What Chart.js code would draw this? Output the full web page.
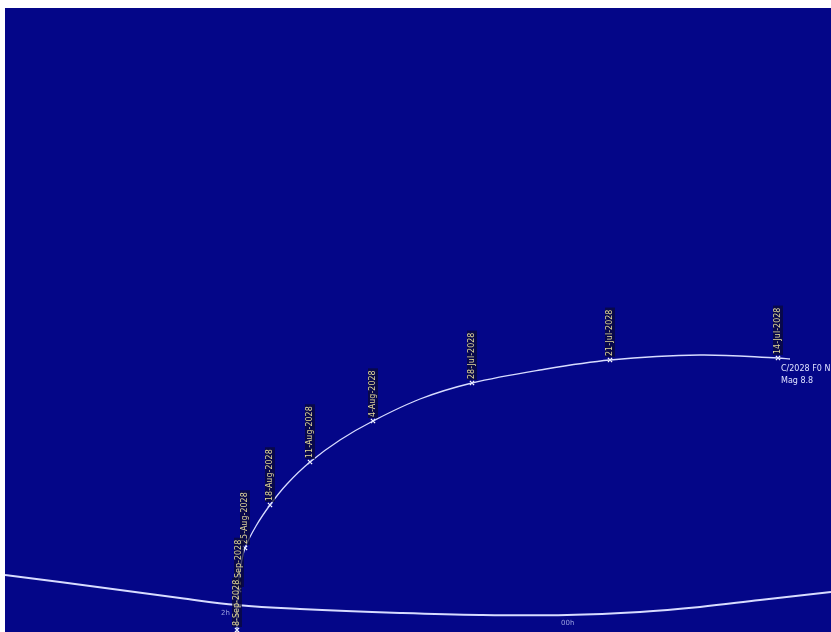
<!DOCTYPE html>
<html>
<head>
<meta charset="utf-8">
<script src="https://cdn.jsdelivr.net/npm/chart.js@4.4.1/dist/chart.umd.min.js"></script>
<style>
  html, body { margin: 0; padding: 0; background: #fff; }
  #wrap { position: absolute; left: 5px; top: 8px; width: 826px; height: 624px; }
</style>
</head>
<body>
<div id="wrap"><canvas id="myChart" width="826" height="624"></canvas></div>
<script>
// sky position of the horizon / ecliptic line (screen units)
const horizonX = [5, 60, 120, 180, 237, 300, 400, 480, 567, 640, 700, 760, 831];
const horizonY = [575, 582, 590, 598, 605, 609, 613, 615, 615, 612, 607, 600, 592];

// comet path
const pathX = [790, 778, 700, 610, 540, 472, 420, 373, 340, 310, 287, 270, 256, 245, 240, 238, 237, 237];
const pathY = [359, 358, 355, 360, 370, 383, 399, 421, 440, 462, 484, 505, 526, 548, 570, 592, 612, 632];

// dated positions
const dateLabels = ['14-Jul-2028', '21-Jul-2028', '28-Jul-2028', '4-Aug-2028', '11-Aug-2028', '18-Aug-2028', '25-Aug-2028', '1-Sep-2028', '8-Sep-2028'];
const dateX = [778, 610, 472, 373, 310, 270, 245, 239, 237];
const dateY = [358, 360, 383, 421, 462, 505, 548, 590, 630];

// hour marks on the horizon line
const hourLabels = ['2h', '00h'];
const hourX = [227, 567];
const hourY = [605, 615];

const objectName = 'C/2028 F0 NN';
const objectMag = 'Mag 8.8';

const toPts = (xs, ys) => xs.map((x, i) => ({x: x, y: ys[i]}));

const skyPlugin = {
    id: 'sky',
    beforeDraw(chart) {
        const ctx = chart.ctx;
        ctx.save();
        ctx.fillStyle = 'rgb(4,6,136)';
        ctx.fillRect(0, 0, chart.width, chart.height);
        ctx.restore();
    },
    afterDatasetsDraw(chart) {
        const ctx = chart.ctx;
        const xs = chart.scales.x, ys = chart.scales.y;
        ctx.save();
        ctx.font = '8px "DejaVu Sans"';
        ctx.textBaseline = 'middle';
        dateLabels.forEach((lab, i) => {
            const px = xs.getPixelForValue(dateX[i]);
            const py = ys.getPixelForValue(dateY[i]);
            ctx.save();
            ctx.translate(px, py - 4);
            ctx.rotate(-Math.PI / 2);
            const w = ctx.measureText(lab).width;
            ctx.fillStyle = 'rgba(10,10,50,0.7)';
            ctx.fillRect(-1, -5, w + 3, 10);
            ctx.fillStyle = '#e2d89a';
            ctx.textAlign = 'left';
            ctx.fillText(lab, 0, 0);
            ctx.restore();
        });
        ctx.fillStyle = '#9aa0e0';
        ctx.font = '7px "DejaVu Sans"';
        ctx.textAlign = 'left';
        hourLabels.forEach((lab, i) => {
            ctx.fillText(lab, xs.getPixelForValue(hourX[i]) - 6, ys.getPixelForValue(hourY[i]) + 8);
        });
        const ox = xs.getPixelForValue(dateX[0]) + 3;
        const oy = ys.getPixelForValue(dateY[0]);
        ctx.fillStyle = '#dfe2ff';
        ctx.font = '8px "DejaVu Sans"';
        ctx.fillText(objectName, ox, oy + 11);
        ctx.fillText(objectMag, ox, oy + 23);
        ctx.restore();
    }
};

const data = {
    datasets: [{
        label: 'horizon',
        data: toPts(horizonX, horizonY),
        showLine: true,
        borderColor: '#d8dcff',
        borderWidth: 2,
        pointRadius: 0,
        tension: 0.4
    }, {
        label: 'path',
        data: toPts(pathX, pathY),
        showLine: true,
        borderColor: '#d8dcff',
        borderWidth: 1.3,
        pointRadius: 0,
        tension: 0.35
    }, {
        label: 'dates',
        data: toPts(dateX, dateY),
        showLine: false,
        pointStyle: 'crossRot',
        pointRadius: 3,
        borderColor: '#ffffff',
        borderWidth: 1.2
    }]
};

const config = {
    type: 'scatter',
    data: data,
    options: {
        responsive: false,
        animation: false,
        layout: {padding: 0, autoPadding: false},
        plugins: {legend: {display: false}, tooltip: {enabled: false}},
        scales: {
            x: {type: 'linear', display: false, min: 5, max: 831},
            y: {type: 'linear', display: false, min: 8, max: 632, reverse: true}
        }
    },
    plugins: [skyPlugin]
};

const myChart = new Chart(document.getElementById('myChart'), config);
</script>
</body>
</html>
